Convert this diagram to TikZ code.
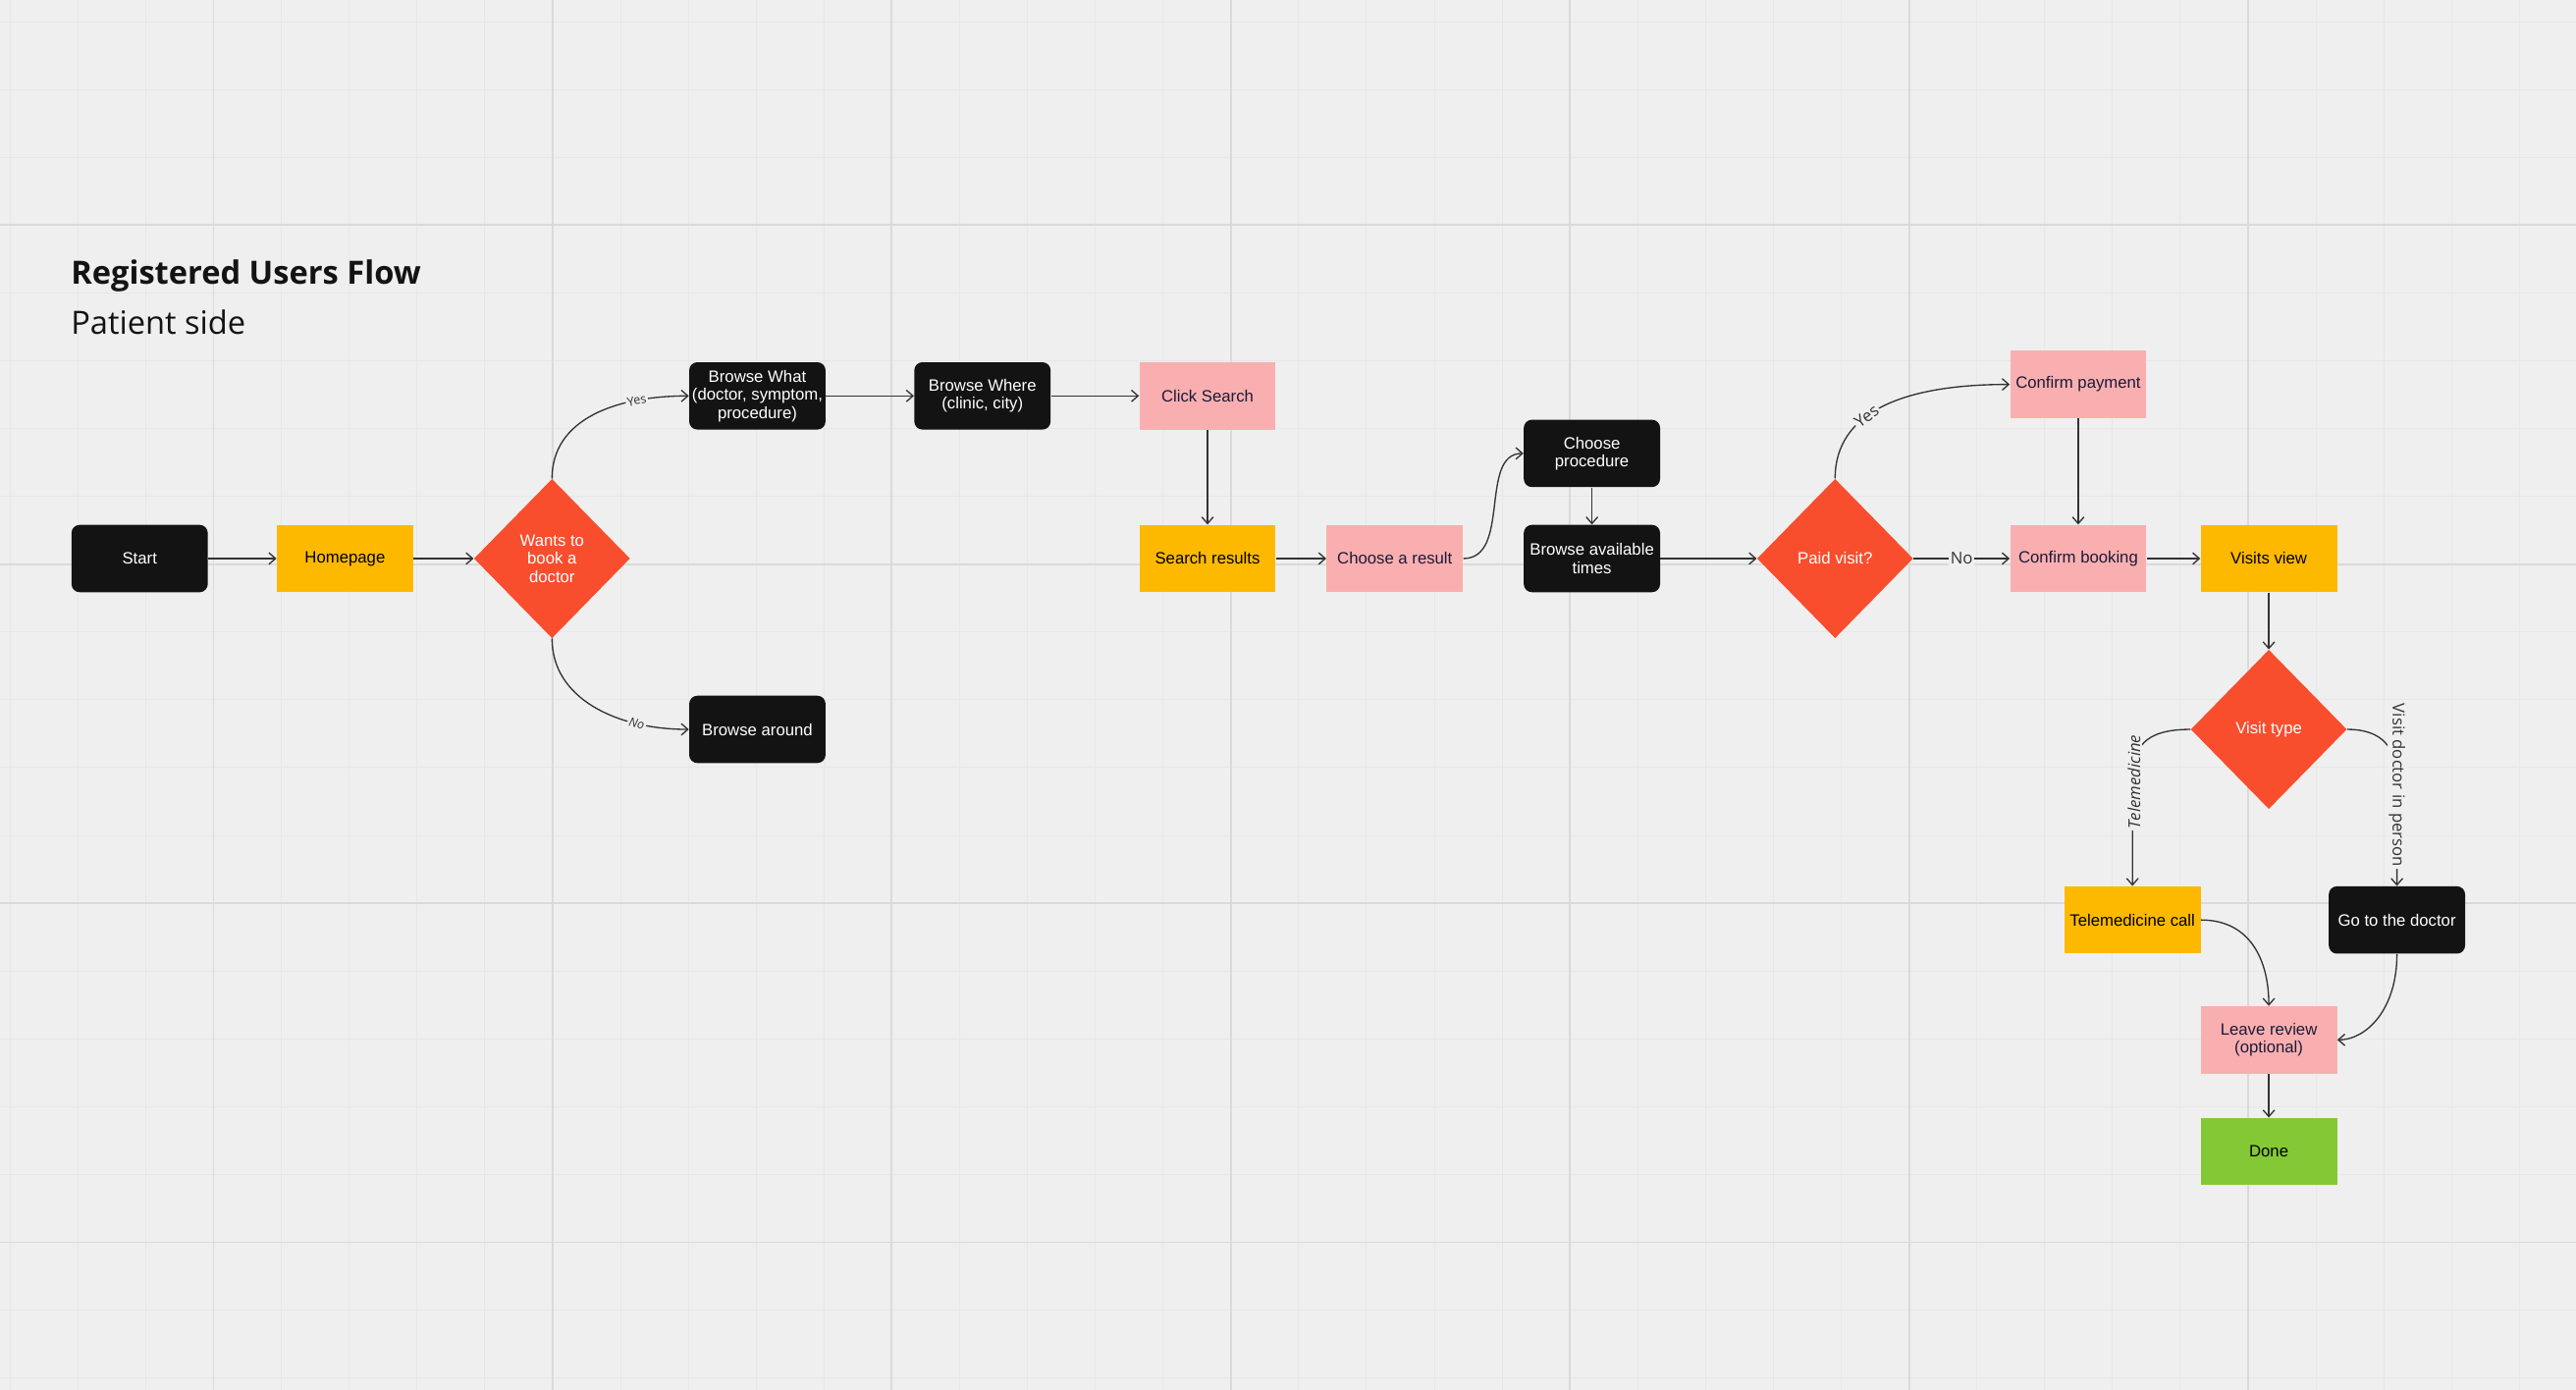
\documentclass[tikz,border=0pt]{standalone}
\usepackage{fontspec}
\setmainfont{Liberation Sans}
\newfontfamily\osans{Open Sans}
\usetikzlibrary{arrows.meta,shapes.geometric}
\definecolor{bg}{HTML}{EFEFEF}
\definecolor{minorg}{HTML}{E7E7E7}
\definecolor{majorg}{HTML}{DADADA}
\definecolor{ylw}{HTML}{FDB900}
\definecolor{pnk}{HTML}{F9AFAF}
\definecolor{org}{HTML}{F84E2E}
\definecolor{grn}{HTML}{84C935}
\definecolor{blk}{HTML}{131313}
\definecolor{ln}{HTML}{333333}
\definecolor{navy}{HTML}{1A1A3A}
\begin{document}
\begin{tikzpicture}[x=1pt,y=-1pt,
  box/.style={minimum width=83pt,minimum height=41pt,inner sep=1pt,align=center,font=\fontsize{10}{11}\selectfont},
  dark/.style={box,fill=blk,text=white,rounded corners=5pt},
  yel/.style={box,fill=ylw,text=black},
  pink/.style={box,fill=pnk,text=navy},
  green/.style={box,fill=grn,text=black},
  dia/.style={diamond,fill=org,text=white,minimum width=95pt,minimum height=97pt,inner sep=0pt,aspect=1,align=center,font=\fontsize{10}{11}\selectfont},
  arr/.style={draw=ln,line width=0.8pt,-{Straight Barb[length=4pt,width=7pt]}},
  lbl/.style={fill=bg,inner sep=1pt,text=ln,font=\osans\fontsize{7.5}{8}\selectfont}]
\fill[bg] (0,0) rectangle (1568,846);
\useasboundingbox (0,0) rectangle (1568,846);
\foreach \i in {-3,...,35} \draw[minorg,line width=0.6pt] ({130+41.28*\i},0) -- ({130+41.28*\i},846);
\foreach \i in {-4,...,20} \draw[minorg,line width=0.6pt] (0,{137+41.28*\i}) -- (1568,{137+41.28*\i});
\foreach \x in {130,336.4,542.8,749.2,955.6,1162,1368.4} \draw[majorg,line width=1.1pt] (\x,0) -- (\x,846);
\foreach \y in {137,343.4,549.8,756.2} \draw[majorg,line width=1.1pt] (0,\y) -- (1568,\y);

\node[anchor=west,inner sep=0pt,font=\osans\bfseries\fontsize{19.5}{22}\selectfont,text=blk] (t1) at (43,168) {Registered Users Flow};
\node[anchor=west,inner sep=0pt,font=\osans\fontsize{19.5}{22}\selectfont,text=blk] (t2) at (43,196) {Patient side};

\node[dark] (start) at (85,340) {Start};
\node[yel] (home) at (210,340) {Homepage};
\node[dia] (wants) at (336,340) {Wants to\\book a\\doctor};
\node[dark] (what) at (461,241) {Browse What\\(doctor, symptom,\\procedure)};
\node[dark] (around) at (461,444) {Browse around};
\node[dark] (where) at (598,241) {Browse Where\\(clinic, city)};
\node[pink] (click) at (735,241) {Click Search};
\node[yel] (results) at (735,340) {Search results};
\node[pink] (choose) at (849,340) {Choose a result};
\node[dark] (proc) at (969,276) {Choose\\procedure};
\node[dark] (times) at (969,340) {Browse available\\times};
\node[dia] (paid) at (1117,340) {Paid visit?};
\node[pink] (pay) at (1265,234) {Confirm payment};
\node[pink] (book) at (1265,340) {Confirm booking};
\node[yel] (visits) at (1381,340) {Visits view};
\node[dia] (vtype) at (1381,444) {Visit type};
\node[yel] (tele) at (1298,560) {Telemedicine call};
\node[dark] (go) at (1459,560) {Go to the doctor};
\node[pink] (review) at (1381,633) {Leave review\\(optional)};
\node[green] (done) at (1381,701) {Done};

\draw[arr] (start) -- (home);
\draw[arr] (home) -- (wants);
\draw[arr] (wants.north) .. controls (336,255) and (375,241) .. (what.west) node[lbl,pos=0.75,sloped] {Yes};
\draw[arr] (wants.south) .. controls (336,425) and (375,444) .. (around.west) node[lbl,pos=0.75,sloped,font=\osans\itshape\fontsize{7.5}{8}\selectfont] {No};
\draw[arr] (what) -- (where);
\draw[arr] (where) -- (click);
\draw[arr] (click) -- (results);
\draw[arr] (results) -- (choose);
\draw[arr] (choose.east) .. controls (920,340) and (900,276) .. (proc.west);
\draw[arr] (proc) -- (times);
\draw[arr] (times) -- (paid);
\draw[arr] (paid.north) .. controls (1117,250) and (1160,234) .. (pay.west) node[lbl,pos=0.4,sloped,font=\osans\fontsize{10}{11}\selectfont] {Yes};
\draw[arr] (paid.east) -- (book.west) node[lbl,midway,font=\osans\fontsize{10}{11}\selectfont] {No};
\draw[arr] (pay) -- (book);
\draw[arr] (book) -- (visits);
\draw[arr] (visits) -- (vtype);
\draw[arr] (vtype.west) .. controls (1305,444) and (1298,455) .. (1298,475) -- (tele.north);
\node[lbl,rotate=90,font=\osans\itshape\fontsize{10}{11}\selectfont] (l1) at (1299,476) {Telemedicine};
\draw[arr] (vtype.east) .. controls (1450,444) and (1459,455) .. (1459,475) -- (go.north);
\node[lbl,rotate=-90,font=\osans\fontsize{10}{11}\selectfont] (l2) at (1459,478) {Visit doctor in person};
\draw[arr] (tele.east) .. controls (1370,560) and (1381,585) .. (review.north);
\draw[arr] (go.south) .. controls (1459,615) and (1440,633) .. (review.east);
\draw[arr] (review) -- (done);
\end{tikzpicture}
\end{document}
